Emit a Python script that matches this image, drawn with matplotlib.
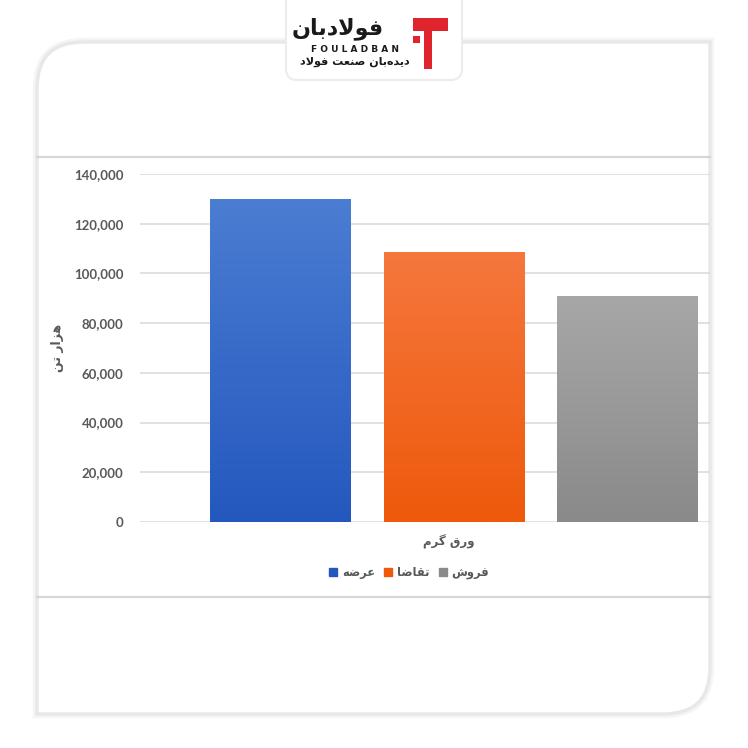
import numpy as np
import matplotlib.pyplot as plt
from matplotlib.patches import Rectangle, FancyBboxPatch, PathPatch
from matplotlib.path import Path
from matplotlib.colors import LinearSegmentedColormap

# -------------------------
# data
# -------------------------
# Persian text is written with presentation forms in visual order
category = "\uFEE1\uFEAE\uFB94 \uFED5\uFEAD\uFEED"          # ورق گرم
series_names = [
    "\uFEEA\uFEBF\uFEAE\uFECB",                               # عرضه
    "\uFE8E\uFEBF\uFE8E\uFED8\uFE97",                         # تقاضا
    "\uFEB5\uFEED\uFEAE\uFED3",                               # فروش
]
values = [130000, 108600, 91000]
y_ticks = [0, 20000, 40000, 60000, 80000, 100000, 120000, 140000]
y_label = "\uFEE6\uFE97 \uFEAD\uFE8D\uFEB0\uFEEB"               # هزار تن

logo_fa = "\uFEE5\uFE8E\uFE91\uFEA9\uFEFB\uFEEE\uFED3"          # فولادبان
logo_en = "F O U L A D B A N"
logo_sub = ("\uFEA9\uFEFB\uFEEE\uFED3 \uFE96\uFECC\uFEE8\uFEBB "
            "\uFEE5\uFE8E\uFE91\uFEE9\uFEAA\uFBFE\uFEA9")        # دیده‌بان صنعت فولاد

# colours (top, bottom) of the gradient fill
grads = [("#4b7dd2", "#2458be"), ("#f5773d", "#ee590b"), ("#a7a7a7", "#8a8a8a")]

W = H = 748
fig = plt.figure(figsize=(7.48, 7.48), dpi=100)
fig.patch.set_facecolor("white")

def fx(px):
    return px / W

def fy(py):
    return 1 - py / H

# -------------------------
# card background
# -------------------------
x0, x1, y0, y1, r = fx(37), fx(710), fy(714), fy(42), 0.062
verts = [
    (x0, y0), (x1 - r, y0), (x1, y0), (x1, y0 + r), (x1, y1),
    (x0 + r, y1), (x0, y1), (x0, y1 - r), (x0, y0),
]
codes = [Path.MOVETO, Path.LINETO, Path.CURVE3, Path.CURVE3, Path.LINETO,
         Path.LINETO, Path.CURVE3, Path.CURVE3, Path.CLOSEPOLY]
for lw, c in [(6, "#f5f5f5"), (2.5, "#e8e8e8")]:
    fig.patches.append(PathPatch(Path(verts, codes), transform=fig.transFigure,
                                 facecolor="white", edgecolor=c, lw=lw, zorder=-2))
for py in (157, 597):
    fig.add_artist(plt.Line2D([x0, x1], [fy(py), fy(py)], transform=fig.transFigure,
                              color="#d6d6d6", lw=1.6, zorder=-1))

# -------------------------
# logo
# -------------------------
fig.patches.append(FancyBboxPatch((fx(286), fy(80)), fx(176), fx(90),
                                  boxstyle="round,pad=0,rounding_size=0.015",
                                  transform=fig.transFigure, facecolor="white",
                                  edgecolor="#ececec", lw=1.5, zorder=2))
fig.patches.append(Rectangle((fx(413), fy(31)), fx(35), fx(13), transform=fig.transFigure,
                             facecolor="#e0242d", zorder=3))
fig.patches.append(Rectangle((fx(424), fy(69)), fx(8), fx(38), transform=fig.transFigure,
                             facecolor="#e0242d", zorder=3))
fig.patches.append(Rectangle((fx(413), fy(43)), fx(7), fx(7), transform=fig.transFigure,
                             facecolor="#e0242d", zorder=3))
fig.text(fx(338), fy(29), logo_fa, ha="center", va="center", fontsize=16,
         fontweight="bold", color="#1a1a1a", zorder=4)
fig.text(fx(355), fy(49), logo_en, ha="center", va="center", fontsize=6.5,
         color="#1a1a1a", fontweight="bold", zorder=4)
fig.text(fx(355), fy(62), logo_sub, ha="center", va="center", fontsize=8,
         color="#1a1a1a", fontweight="bold", zorder=4)

# -------------------------
# chart
# -------------------------
ax = fig.add_axes([fx(140), fy(522), fx(710) - fx(140), fy(174) - fy(522)], zorder=5)
ax.set_facecolor("none")
pos = np.arange(len(values))
width = 0.81
bars = ax.bar(pos, values, width=width, color=[g[1] for g in grads],
              edgecolor="none", zorder=3)

for b, (top, bot) in zip(bars, grads):
    cmap = LinearSegmentedColormap.from_list("g", [bot, top])
    grad = np.linspace(0, 1, 256).reshape(-1, 1)
    im = ax.imshow(grad, cmap=cmap, aspect="auto", origin="lower",
                   extent=[b.get_x(), b.get_x() + b.get_width(), 0, b.get_height()],
                   zorder=4)
    im.set_clip_path(b)

ax.set_xlim(-0.81, 2.475)
ax.set_ylim(0, 140000)
ax.set_yticks(y_ticks)
ax.set_yticklabels([f"{v:,}" for v in y_ticks])
ax.yaxis.grid(True, color="#d9d9d9", lw=1.1, zorder=0)
ax.set_axisbelow(True)
for s in ax.spines.values():
    s.set_visible(False)
ax.tick_params(axis="y", length=0, pad=12, labelsize=9.5, labelcolor="#595959")
for t in ax.get_yticklabels():
    t.set_fontweight("bold")
    t.set_family(["Lato", "DejaVu Sans"])
ax.set_xticks([])

fig.text(fx(449), fy(542), category, ha="center", va="center", fontsize=8.5,
         fontweight="bold", color="#595959")
fig.text(fx(58), fy(348), y_label, ha="center", va="center", rotation=90,
         fontsize=9, fontweight="bold", color="#595959")

handles = [Rectangle((0, 0), 1, 1, color=g[1]) for g in grads]
leg = fig.legend(handles, series_names, loc="center", ncol=3,
                 bbox_to_anchor=(fx(409), fy(573)), frameon=False,
                 handlelength=0.7, handleheight=0.7, handletextpad=0.4,
                 columnspacing=0.8, prop={"size": 8.3, "weight": "bold"})
for t in leg.get_texts():
    t.set_color("#595959")

fig.savefig("out.png", dpi=100, facecolor="white")
